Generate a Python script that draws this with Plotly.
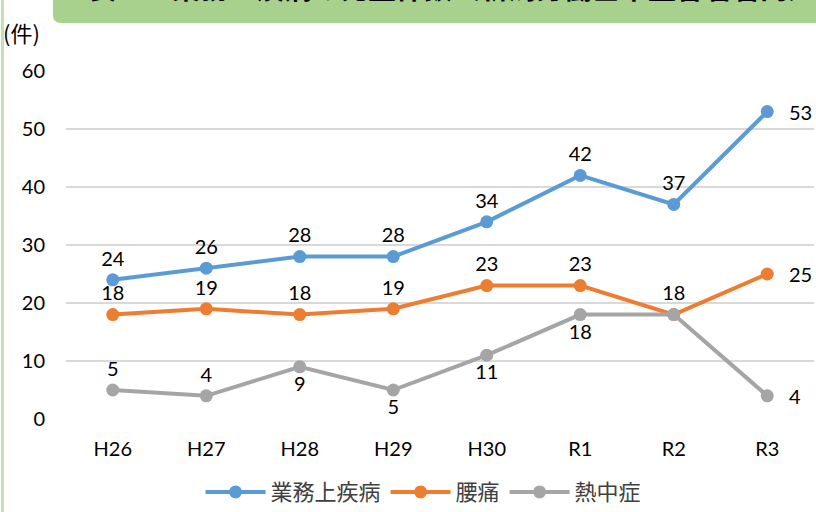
import plotly.graph_objects as go

categories = ["H26", "H27", "H28", "H29", "H30", "R1", "R2", "R3"]
series_names = ["業務上疾病", "腰痛", "熱中症"]
disease = [24, 26, 28, 28, 34, 42, 37, 53]
lowback = [18, 19, 18, 19, 23, 23, 18, 25]
heat = [5, 4, 9, 5, 11, 18, 18, 4]
y_ticks = [0, 10, 20, 30, 40, 50, 60]

colors = ["#5b9bd5", "#ed7d31", "#a5a5a5"]
pos_disease = ["top center"] * 7 + ["middle right"]
pos_lowback = ["top center"] * 7 + ["middle right"]
pos_heat = ["top center", "top center", "bottom center", "bottom center",
            "bottom center", "bottom center", "top center", "middle right"]
show_heat = [True, True, True, True, True, True, False, True]

NUM_FONT = "Lato, 'Noto Sans', sans-serif"
JP_FONT = "'Noto Sans CJK JP', sans-serif"

fig = go.Figure()
all_series = [(disease, pos_disease, [True] * 8), (lowback, pos_lowback, [True] * 8), (heat, pos_heat, show_heat)]
for (vals, pos, show), name, col in zip(all_series, series_names, colors):
    texts = [str(v) if (s and i < len(vals) - 1) else "" for i, (v, s) in enumerate(zip(vals, show))]
    fig.add_trace(go.Scatter(
        x=categories, y=vals, name=name, mode="lines+markers+text",
        line=dict(color=col, width=4), marker=dict(color=col, size=13),
        text=texts, textposition=pos,
        textfont=dict(family=NUM_FONT, size=20, color="#000000"),
        cliponaxis=False,
    ))
    fig.add_annotation(x=categories[-1], y=vals[-1], text=str(vals[-1]), showarrow=False,
                       xanchor="left", yanchor="middle", xshift=20,
                       font=dict(family=NUM_FONT, size=20, color="#000000"))

# top banner (green, rounded bottom-left corner)
x0, x1 = -0.0174, 1.1
yb, yt = 1.138, 1.35
rx, ry = 0.0107, 0.023
fig.add_shape(type="path", xref="paper", yref="paper",
              path=f"M {x0},{yt} L {x0},{yb+ry} Q {x0},{yb} {x0+rx},{yb} L {x1},{yb} L {x1},{yt} Z",
              fillcolor="#a9d18e", line=dict(width=0), layer="below")
# left border line
fig.add_shape(type="rect", xref="paper", yref="paper", x0=-0.0869, x1=-0.0829, y0=-0.3, y1=1.3,
              fillcolor="#c5e0b4", line=dict(width=0), layer="below")
# title partially cut off
fig.add_annotation(xref="paper", yref="paper", x=0.027, y=1.178, xanchor="left", yanchor="bottom",
                   text="<b>表１．業務上疾病の発生件数（新潟労働基準監督署管内）</b>", showarrow=False,
                   font=dict(family=JP_FONT, size=28, color="#000000"))
# unit label
fig.add_annotation(xref="paper", yref="paper", x=-0.059, y=1.112, xanchor="center", yanchor="middle",
                   text="(件)", showarrow=False,
                   font=dict(family=JP_FONT, size=22, color="#000000"))

fig.update_layout(
    width=816, height=512,
    margin=dict(l=66, r=2, t=71, b=93, autoexpand=False),
    paper_bgcolor="white", plot_bgcolor="white",
    showlegend=True,
    legend=dict(orientation="h", x=0.478, xanchor="center", y=-0.21, yanchor="middle",
                font=dict(family=JP_FONT, size=22, color="#404040"),
                itemwidth=60, tracegroupgap=0),
    xaxis=dict(type="category", showgrid=False, zeroline=False, showline=False,
               tickfont=dict(family=NUM_FONT, size=20, color="#000000"),
               ticks="", ticklabelstandoff=16, range=[-0.5, 7.5]),
    yaxis=dict(range=[0, 60], tickvals=y_ticks, showgrid=True, gridcolor="#d9d9d9", gridwidth=1.5,
               zeroline=False, showline=False, ticks="",
               tickfont=dict(family=NUM_FONT, size=20, color="#000000"),
               ticklabelstandoff=20),
)

fig.write_html("out.html", config={"displayModeBar": False},
               post_script="document.body.style.margin='0';document.body.style.overflow='hidden';")
